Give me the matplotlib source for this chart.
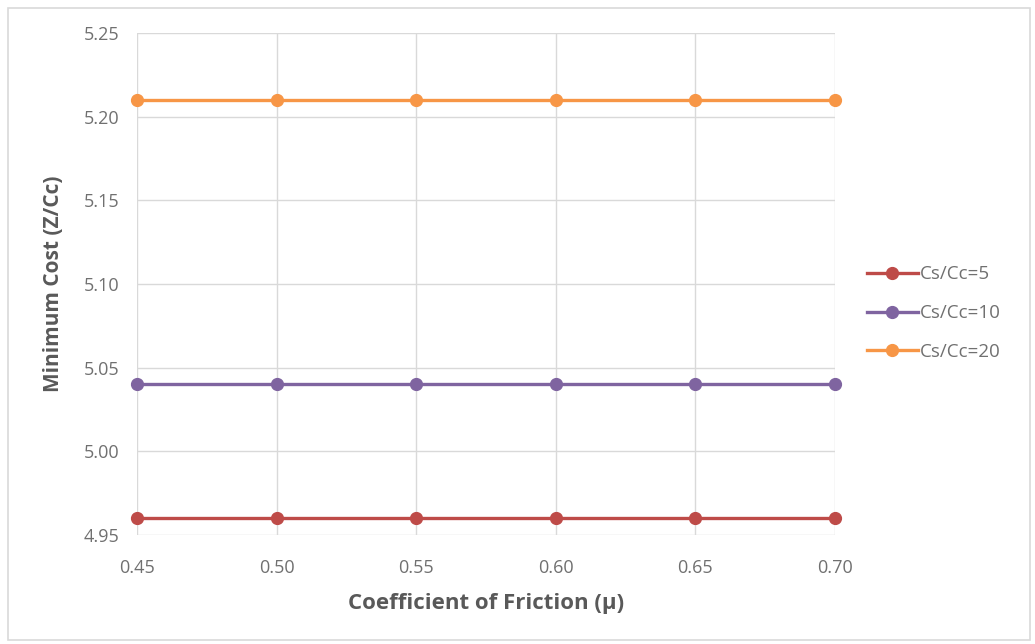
import matplotlib.pyplot as plt
from matplotlib.patches import Rectangle

# data
mu = [0.45, 0.50, 0.55, 0.60, 0.65, 0.70]
cost_5 = [4.96, 4.96, 4.96, 4.96, 4.96, 4.96]
cost_10 = [5.04, 5.04, 5.04, 5.04, 5.04, 5.04]
cost_20 = [5.21, 5.21, 5.21, 5.21, 5.21, 5.21]
series_labels = ["Cs/Cc=5", "Cs/Cc=10", "Cs/Cc=20"]
colors = ["#BE4B48", "#7F64A0", "#F79646"]
yticks = [4.95, 5.00, 5.05, 5.10, 5.15, 5.20, 5.25]

plt.rcParams['font.family'] = ['Open Sans', 'DejaVu Sans']

fig = plt.figure(figsize=(10.35, 6.44), dpi=100)
ax = fig.add_axes([0.1324, 0.1693, 0.6744, 0.7795])

# outer chart border
fig.patches.append(Rectangle((8 / 1035, 4 / 644), 1022 / 1035, 632 / 644,
                             transform=fig.transFigure, fill=False,
                             edgecolor="#D9D9D9", linewidth=1.2))

for vals, lab, col in zip([cost_5, cost_10, cost_20], series_labels, colors):
    ax.plot(mu, vals, color=col, linewidth=2.4, marker="o", markersize=8.5,
            label=lab, clip_on=False, zorder=3)

ax.set_xlim(0.45, 0.70)
ax.set_ylim(4.95, 5.25)
ax.set_xticks(mu)
ax.set_xticklabels(["%.2f" % m for m in mu])
ax.set_yticks(yticks)
ax.set_yticklabels(["%.2f" % v for v in yticks])
ax.grid(True, color="#D9D9D9", linewidth=1)
ax.set_axisbelow(True)
for s in ax.spines.values():
    s.set_visible(False)
ax.tick_params(length=0, labelsize=13, labelcolor="#707070")
ax.tick_params(axis="x", pad=17)
ax.tick_params(axis="y", pad=13)

ax.set_xlabel("Coefficient of Friction (µ)", fontsize=16, fontweight="bold",
              color="#595959", labelpad=12)
ax.set_ylabel("Minimum Cost (Z/Cc)", fontsize=15, fontweight="bold",
              color="#595959", labelpad=14)

leg = ax.legend(loc="center left", bbox_to_anchor=(1.046, 0.442), frameon=False,
                fontsize=13.5, labelspacing=1.1, handlelength=2.7,
                handletextpad=0.1, borderpad=0, borderaxespad=0)
for t in leg.get_texts():
    t.set_color("#707070")

fig.savefig("out.png", dpi=100)
